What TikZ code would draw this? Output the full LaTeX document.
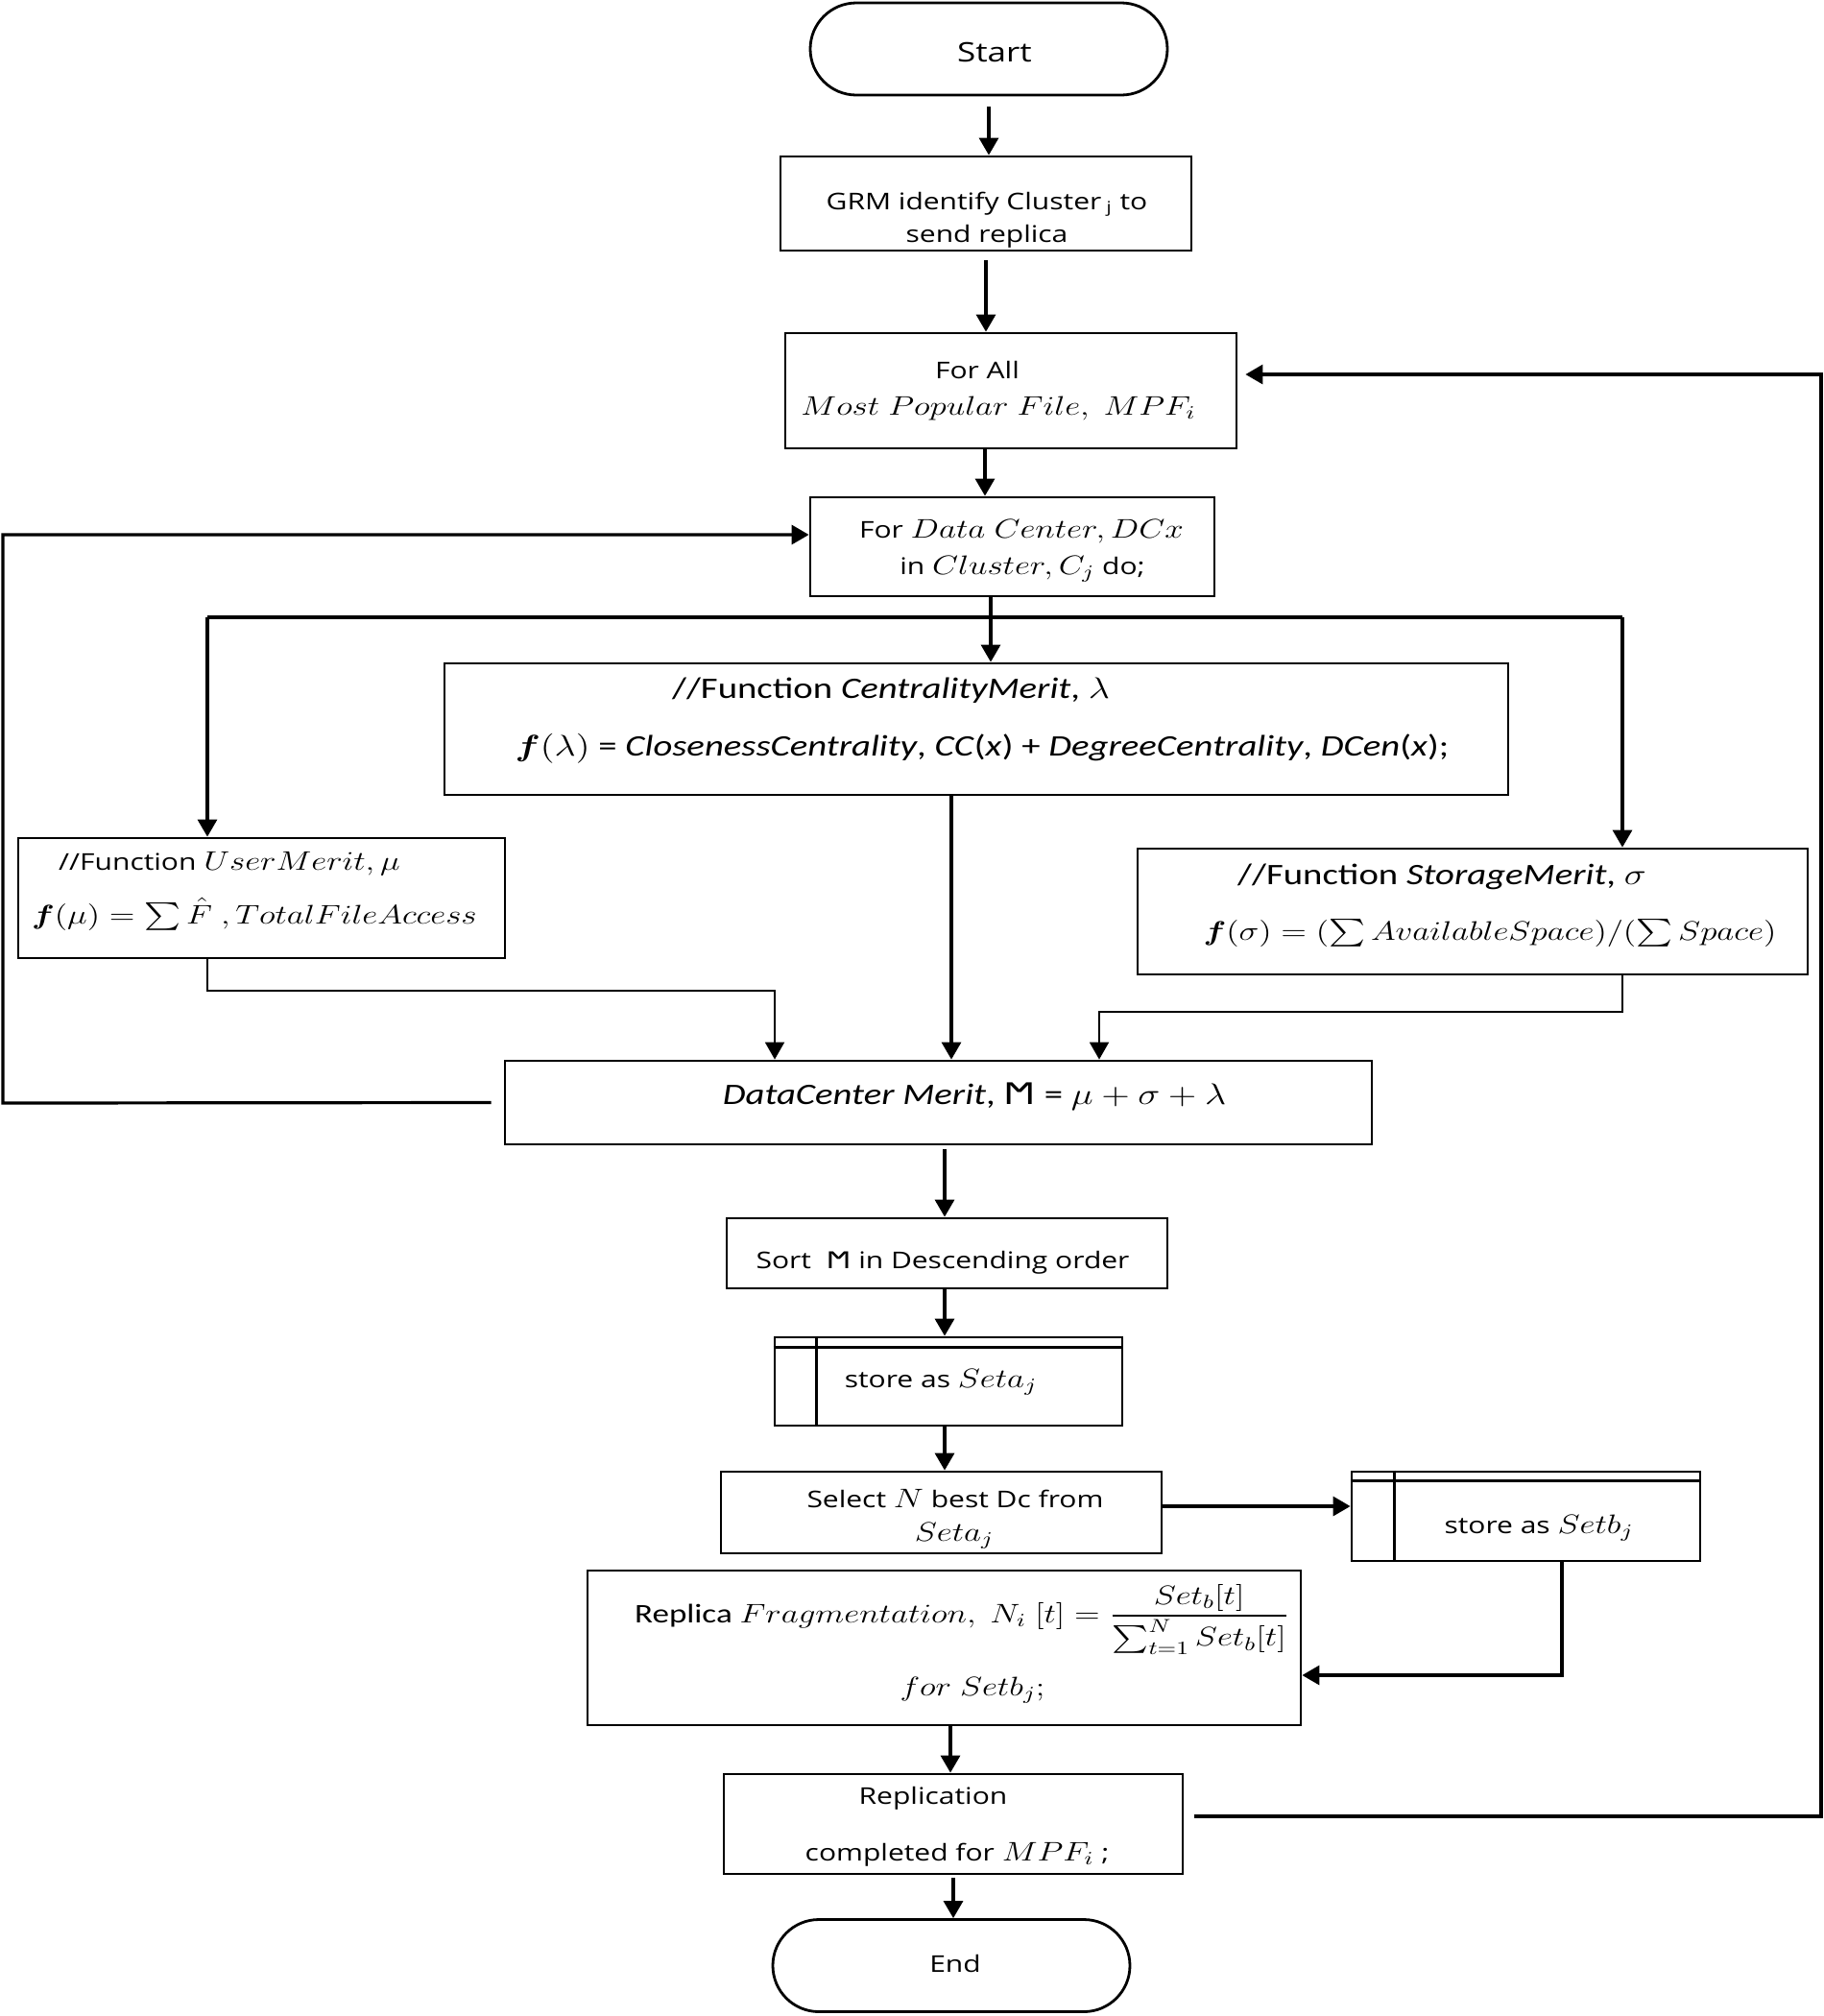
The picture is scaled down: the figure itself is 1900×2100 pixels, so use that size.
\RequirePackage{fix-cm}
\documentclass[tikz,border=0pt]{standalone}
\usepackage{amsmath}
\usepackage{graphicx}
\usepackage[no-math]{fontspec}
\setmainfont{Open Sans}
\newfontfamily\carl{Carlito}
\newfontfamily\dejavu{DejaVu Sans}
\usetikzlibrary{arrows.meta,shapes.misc}
\newcommand{\sx}[1]{\scalebox{1.25}[1]{#1}}
\newcommand{\M}[1]{{\fontsize{14}{17}\selectfont$#1$}}
\newcommand{\Mc}[1]{{\fontsize{15.5}{18}\selectfont$#1$}}
\begin{document}
\begin{tikzpicture}[x=0.5pt,y=-0.5pt,
  box/.style={draw, line width=1.4pt, inner sep=0pt, fill=white},
  term/.style={draw, line width=1.4pt, rounded rectangle, inner sep=0pt, minimum width=186pt, minimum height=48pt},
  arr/.style={line width=1.6pt, -{Triangle[length=9pt,width=10pt]}},
  arrthin/.style={line width=1.0pt, -{Triangle[length=9pt,width=10pt]}},
  plain/.style={line width=1.6pt},
  txt/.style={anchor=base, inner sep=0pt, font=\fontsize{12}{14}\selectfont},
  ctxt/.style={anchor=base, inner sep=0pt, font=\carl\fontsize{15.5}{18}\selectfont}
]
\useasboundingbox (0,0) rectangle (1900,2100);
\fill[white] (0,0) rectangle (1900,2100);

% boxes
\node[term] (start) at (1030,51) {};
\node[box, minimum width=214pt, minimum height=49pt] (grm) at (1027,212) {};
\node[box, minimum width=235pt, minimum height=60pt] (forall) at (1053,407) {};
\node[box, minimum width=210.5pt, minimum height=51.5pt] (dc) at (1054.5,569.5) {};
\node[box, minimum width=554pt, minimum height=68.5pt] (cent) at (1017,759.5) {};
\node[box, minimum width=253.5pt, minimum height=62.5pt] (user) at (272.5,935.5) {};
\node[box, minimum width=349pt, minimum height=65.5pt] (stor) at (1534,949.5) {};
\node[box, minimum width=451.5pt, minimum height=43.5pt] (merit) at (977.5,1148.5) {};
\node[box, minimum width=229.5pt, minimum height=36.5pt] (sort) at (986.5,1305.5) {};
\node[box, minimum width=181pt, minimum height=46pt] (seta) at (988,1439) {};
\node[box, minimum width=229.5pt, minimum height=42.5pt] (select) at (980.5,1575.5) {};
\node[box, minimum width=181.5pt, minimum height=46.5pt] (setb) at (1589.5,1579.5) {};
\node[box, minimum width=371.5pt, minimum height=80.5pt] (frag) at (983.5,1716.5) {};
\node[box, minimum width=239pt, minimum height=52pt] (repl) at (993,1900) {};
\node[term] (end) at (991,2047.5) {};

% predefined-process inner lines
\draw[line width=1.4pt] ([xshift=22.5pt]seta.north west) -- ([xshift=22.5pt]seta.south west);
\draw[line width=1.4pt] ([yshift=-6pt]seta.north west) -- ([yshift=-6pt]seta.north east);
\draw[line width=1.4pt] ([xshift=23pt]setb.north west) -- ([xshift=23pt]setb.south west);
\draw[line width=1.4pt] ([yshift=-5.5pt]setb.north west) -- ([yshift=-5.5pt]setb.north east);

% texts
\node[txt, font=\fontsize{14}{16}\selectfont] (t-start) at (1036,64) {\sx{Start}};
\node[txt] (t-grm1) at (1028,218) {\sx{GRM identify Cluster\textsubscript{ j} to}};
\node[txt] (t-grm2) at (1028,252) {\sx{send replica}};
\node[txt] (t-fa1) at (1018,394) {\sx{For All}};
\node[txt] (t-fa2) at (1040,432) {\sx{\M{Most\ Popular\ File,\ MPF_i}}};
\node[txt] (t-dc1) at (1064,560) {\sx{For \M{Data\ Center, DCx}}};
\node[txt] (t-dc2) at (1065,598) {\sx{in \M{Cluster, C_j} do;}};
\node[ctxt] (t-c1) at (928,727) {\sx{//Function \textit{CentralityMerit}, \Mc{\lambda}}};
\node[ctxt] (t-c2) at (1023,787) {\sx{\Mc{\boldsymbol{f}(\lambda)} = \textit{ClosenessCentrality}, \textit{CC}(\textit{x}) + \textit{DegreeCentrality}, \textit{DCen}(\textit{x});}};
\node[txt] (t-u1) at (239,906) {\sx{//Function \M{UserMerit,\mu}}};
\node[txt] (t-u2) at (265,962) {\sx{\M{\boldsymbol{f}(\mu)=\textstyle\sum\hat{F}\ ,TotalFileAccess}}};
\node[ctxt] (t-s1) at (1502,921) {\sx{//Function \textit{StorageMerit}, \Mc{\sigma}}};
\node[txt] (t-s2) at (1552,979) {\sx{\M{\boldsymbol{f}(\sigma)=(\textstyle\sum AvailableSpace)/(\sum Space)}}};
\node[ctxt] (t-m) at (1015,1150) {\sx{\textit{DataCenter Merit}, {\dejavu Ϻ} = \Mc{\mu+\sigma+\lambda}}};
\node[txt] (t-sort) at (982,1321) {\sx{Sort\ \ {\dejavu Ϻ} in Descending order}};
\node[txt] (t-seta) at (980,1445) {\sx{store as \M{Seta_j}}};
\node[txt] (t-sel1) at (995,1570) {\sx{Select \M{N} best Dc from}};
\node[txt] (t-sel2) at (994,1605) {\sx{\M{Seta_j}}};
\node[txt] (t-setb) at (1603,1597) {\sx{store as \M{Setb_j}}};
\node[txt] (t-f1) at (1002,1690) {\sx{{\carl\fontsize{14}{16}\selectfont Replica} \M{Fragmentation,\ N_i\ [t]=\dfrac{Set_b[t]}{\sum_{t=1}^{N}Set_b[t]}}}};
\node[txt] (t-f2) at (1013,1766) {\sx{\M{for\ Setb_j;}}};
\node[txt] (t-r1) at (972,1879) {\sx{Replication}};
\node[txt] (t-r2) at (997,1938) {\sx{completed for \M{MPF_i}\ ;}};
\node[txt] (t-end) at (995,2054) {\sx{End}};

% main flow connectors
\draw[arr] ([yshift=-5.5pt]start.south) -- (start.south |- grm.north);
\draw[arr] ([yshift=-4.5pt]grm.south) -- (grm.south |- forall.north);
\draw[arr] ([xshift=-13.5pt]forall.south) -- ([xshift=-13.5pt]forall.south |- dc.north);
\draw[arr] ([xshift=-11.25pt]dc.south) -- ([xshift=-11.25pt]dc.south |- cent.north);

\coordinate (bL) at (216,643);
\coordinate (bR) at (1690,643);
\draw[plain] (bL) -- (bR);
\draw[arr] (bL) -- (bL |- user.north);
\draw[arr] (bR) -- (bR |- stor.north);

\coordinate (uj) at (216,1032);
\coordinate (sj) at (1690,1054);
\draw[arrthin] (bL |- user.south) -- (uj) -| ([xshift=-85.25pt]merit.north);
\draw[arrthin] (bR |- stor.south) -- (sj) -| ([xshift=83.75pt]merit.north);
\draw[arr] ([xshift=-13pt]cent.south) -- ([xshift=-13pt]cent.south |- merit.north);

\coordinate (lb) at (3,1149);
\coordinate (dcin) at ([yshift=6.25pt]dc.west);
\draw[arr] ([xshift=-6.5pt]merit.west) -- (lb) -- (lb |- dcin) -- (dcin);

\draw[arr] ([xshift=3.25pt,yshift=-2pt]merit.south) -- ([xshift=3.25pt]merit.south |- sort.north);
\draw[arr] ([xshift=-1.25pt]sort.south) -- ([xshift=-1.25pt]sort.south |- seta.north);
\draw[arr] ([xshift=-2pt]seta.south) -- ([xshift=-2pt]seta.south |- select.north);
\draw[arr] ([yshift=3.25pt]select.east) -- ([yshift=3.25pt]select.east -| setb.west);

\coordinate (sbj) at ([xshift=18.75pt]setb.south);
\coordinate (fin) at ([yshift=-14.25pt]frag.east);
\draw[arr] (sbj) -- (sbj |- fin) -- (fin);

\draw[arr] ([xshift=3.25pt]frag.south) -- ([xshift=3.25pt]frag.south |- repl.north);
\draw[arr] ([yshift=-1.5pt]repl.south) -- (repl.south |- end.north);

\coordinate (rb) at (1897,1892);
\coordinate (fa) at ([xshift=4pt,yshift=8.5pt]forall.east);
\draw[arr] ([xshift=5.5pt,yshift=4pt]repl.east) -- (rb) -- (rb |- fa) -- (fa);
\end{tikzpicture}
\end{document}
